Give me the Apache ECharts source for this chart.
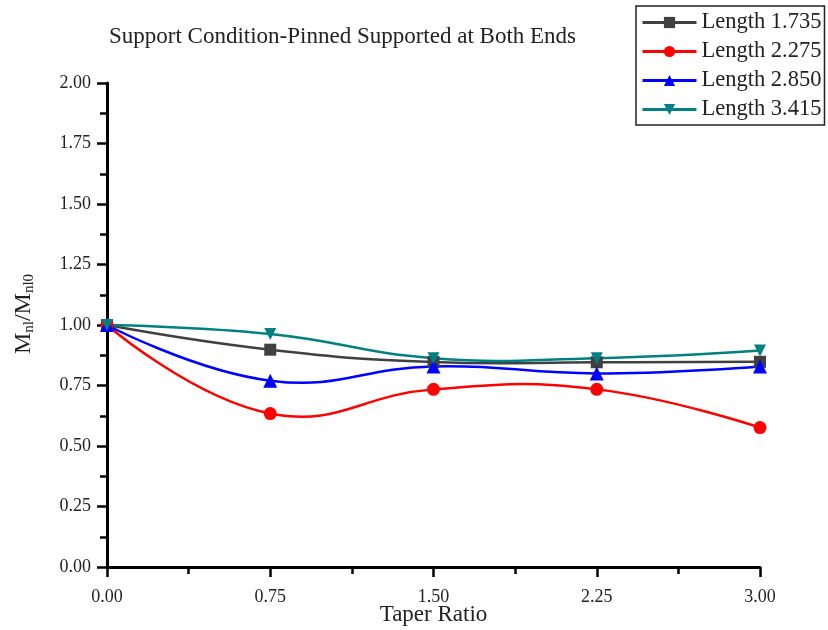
<!DOCTYPE html>
<html>
<head>
<meta charset="utf-8">
<title>Taper Ratio</title>
<script src="https://cdn.jsdelivr.net/npm/echarts@6/dist/echarts.min.js"></script>
<style>
  html, body { margin: 0; padding: 0; background: #fff; }
  #main { width: 828px; height: 630px; }
</style>
</head>
<body>
<div id="main"></div>
<script>
var taperRatio = [0, 0.75, 1.5, 2.25, 3.0];
var seriesNames = ['Length 1.735', 'Length 2.275', 'Length 2.850', 'Length 3.415'];
var len1735 = [1.00, 0.898, 0.847, 0.846, 0.848];
var len2275 = [1.00, 0.634, 0.734, 0.734, 0.576];
var len2850 = [1.00, 0.770, 0.829, 0.800, 0.829];
var len3415 = [1.00, 0.963, 0.863, 0.863, 0.895];

var colors = ['#404040', '#ff0000', '#0000ff', '#008080'];
var symbols = ['rect', 'circle', 'triangle', 'path://M0,0 L10,0 L5,9 Z'];
var allData = [len1735, len2275, len2850, len3415];

var serif = '"Liberation Serif", "Times New Roman", serif';

function pairs(ys) {
    return taperRatio.map(function (x, i) { return [x, ys[i]]; });
}

// smooth curves: drawn as one polyline per series, points go through the axes
function curveSeries(ys, color) {
    return {
        type: 'custom',
        name: 'curve',
        data: pairs(ys),
        z: 1,
        silent: true,
        renderItem: function (params, api) {
            if (params.dataIndex !== 0) return null;
            var pts = taperRatio.map(function (x, i) { return api.coord([x, ys[i]]); });
            return {
                type: 'polyline',
                shape: { points: pts, smooth: 0.45 },
                style: { stroke: color, lineWidth: 2.5, fill: null }
            };
        }
    };
}

var series = [];
allData.forEach(function (ys, i) {
    series.push(curveSeries(ys, colors[i]));
});
allData.forEach(function (ys, i) {
    series.push({
        name: seriesNames[i],
        type: 'line',
        data: pairs(ys),
        z: 3,
        symbol: symbols[i],
        symbolSize: i == 2 ? 14 : (i == 1 ? 13 : 12),
        lineStyle: { color: colors[i], width: 2.5, opacity: 0 },
        itemStyle: { color: colors[i] }
    });
});

var myChart = echarts.init(document.getElementById('main'));
var option = {
    animation: false,
    backgroundColor: '#fff',
    title: {
        text: 'Support Condition-Pinned Supported at Both Ends',
        left: 104,
        top: 20,
        textStyle: { fontFamily: serif, fontSize: 23, fontWeight: 'normal', color: '#222' }
    },
    legend: {
        orient: 'vertical',
        left: 636,
        top: 6,
        padding: [5, 3, 4, 5],
        itemGap: 6,
        itemWidth: 54,
        itemHeight: 14,
        borderColor: '#222',
        borderWidth: 1.5,
        data: seriesNames,
        lineStyle: { width: 3, opacity: 1 },
        textStyle: { fontFamily: serif, fontSize: 22.5, color: '#222' }
    },
    grid: { left: 107, right: 68, top: 83, bottom: 63, outerBoundsMode: 'none', containLabel: false },
    xAxis: {
        type: 'value',
        min: 0,
        max: 3,
        interval: 0.75,
        name: 'Taper Ratio',
        nameLocation: 'middle',
        nameGap: 36,
        nameMoveOverlap: false,
        nameTextStyle: { fontFamily: serif, fontSize: 23, color: '#222' },
        axisLine: { lineStyle: { color: '#000', width: 3 } },
        axisTick: { inside: false, length: 10, lineStyle: { color: '#000', width: 2.5 } },
        minorTick: { show: true, splitNumber: 2, length: 7, lineStyle: { color: '#000', width: 2.5 } },
        splitLine: { show: false },
        axisLabel: {
            fontFamily: serif, fontSize: 18, color: '#222', margin: 21,
            formatter: function (v) { return v.toFixed(2); }
        }
    },
    yAxis: {
        type: 'value',
        min: 0,
        max: 2,
        interval: 0.25,
        name: 'M{s|nl}/M{s|nl0}',
        nameLocation: 'middle',
        nameGap: 70,
        nameMoveOverlap: false,
        nameTextStyle: {
            fontFamily: serif, fontSize: 24, color: '#222',
            padding: [0, 0, 0, 22],
            rich: { s: { fontFamily: serif, fontSize: 15, color: '#222', verticalAlign: 'bottom', padding: [12, 0, 0, 0] } }
        },
        axisLine: { lineStyle: { color: '#000', width: 3 } },
        axisTick: { inside: false, length: 10, lineStyle: { color: '#000', width: 2.5 } },
        minorTick: { show: true, splitNumber: 2, length: 7, lineStyle: { color: '#000', width: 2.5 } },
        splitLine: { show: false },
        axisLabel: {
            fontFamily: serif, fontSize: 18, color: '#222', margin: 16,
            formatter: function (v) { return v.toFixed(2); }
        }
    },
    series: series
};
myChart.setOption(option);
</script>
</body>
</html>
